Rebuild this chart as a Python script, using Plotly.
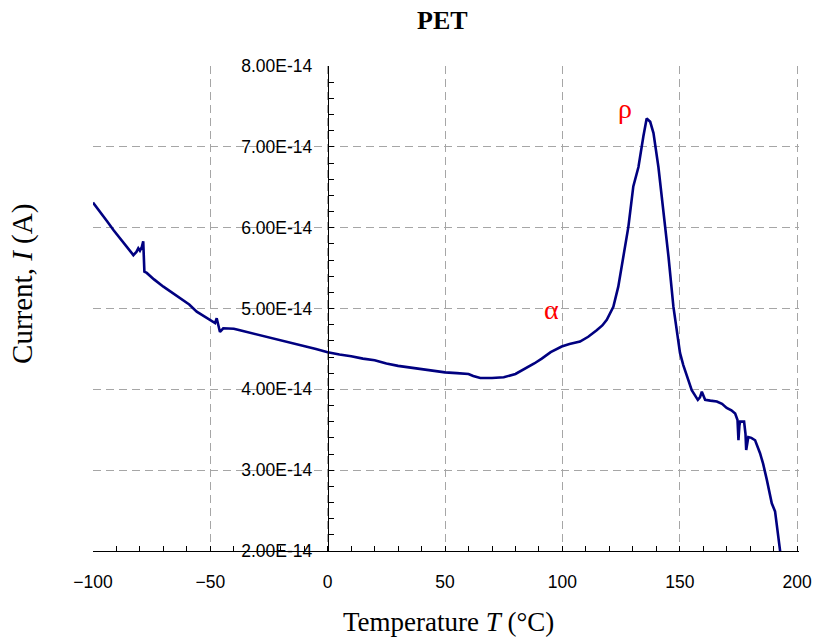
import plotly.graph_objects as go

# Temperature (°C)
temperature = [-100, -97, -94, -91.3, -88, -86, -84.2, -82.8, -81.5, -80.7, -80, -79.2, -78.6, -78.1,
               -77.1, -74, -70, -66, -62.9, -59, -55.8, -52, -48, -47.3, -46.6, -45.9, -44.5,
               -40, -37.4, -33, -28.8, -25, -20, -15, -10, -5, 0, 5, 10, 15, 20, 25, 30, 35, 40,
               45, 50, 55, 60, 62, 65, 70, 75, 80, 85, 88, 91.2, 95, 99.7, 103, 107.5, 111,
               114.6, 117, 118.9, 121.7, 123.8, 126, 128.1, 130.2, 132.4, 134.5, 135.9, 137.4,
               138.8, 140.9, 143.1, 145.2, 147.3, 150.1, 151.5, 153, 155.1, 157.7, 158.6, 159.4,
               160.8, 163, 165.8, 168, 170, 172, 173.6, 174.6, 175, 175.4, 175.7, 177.4, 178,
               178.3, 179.2, 180.5, 182.1, 184.2, 185.5, 187.1, 189.2, 190.6, 191.8, 192.8]

# Current, in units of 1E-14 A
current = [6.31, 6.20, 6.08, 5.97, 5.85, 5.77, 5.70, 5.66, 5.70, 5.745, 5.715, 5.76, 5.83, 5.455,
           5.44, 5.36, 5.27, 5.19, 5.13, 5.05, 4.96, 4.89, 4.82, 4.88, 4.77, 4.71, 4.755,
           4.75, 4.73, 4.70, 4.67, 4.64, 4.61, 4.57, 4.54, 4.50, 4.46, 4.43, 4.41, 4.38, 4.36,
           4.32, 4.29, 4.27, 4.25, 4.23, 4.21, 4.20, 4.19, 4.165, 4.14, 4.14, 4.15, 4.19, 4.27,
           4.32, 4.38, 4.46, 4.53, 4.56, 4.59, 4.65, 4.73, 4.79, 4.86, 5.02, 5.27, 5.64, 6.01,
           6.51, 6.75, 7.13, 7.35, 7.31, 7.17, 6.75, 6.22, 5.64, 5.02, 4.45, 4.30, 4.16, 3.99,
           3.87, 3.90, 3.97, 3.87, 3.86, 3.85, 3.82, 3.77, 3.74, 3.70, 3.62, 3.37, 3.55, 3.60,
           3.60, 3.45, 3.25, 3.41, 3.40, 3.37, 3.21, 3.08, 2.88, 2.59, 2.49, 2.25, 1.99]

y_tick_vals = [2, 3, 4, 5, 6, 7, 8]
y_tick_text = ["2.00E-14", "3.00E-14", "4.00E-14", "5.00E-14", "6.00E-14", "7.00E-14", "8.00E-14"]
x_tick_vals = [-100, -50, 0, 50, 100, 150, 200]

peak_labels = ["α", "ρ"]
peak_T = [95.5, 126.5]
peak_I = [4.985, 7.47]

x_max = 200.8

fig = go.Figure()
fig.add_trace(go.Scatter(x=temperature, y=current, mode="lines",
                         line=dict(color="#000080", width=2.6), showlegend=False))

grid_color = "#a6a6a6"
tick_font = dict(family="Liberation Sans, Arial", size=17.5, color="black")
serif = "Liberation Serif, Times New Roman"

fig.update_layout(
    width=817, height=639,
    margin=dict(l=93, r=18, t=66, b=88, autoexpand=False),
    paper_bgcolor="white", plot_bgcolor="white",
    xaxis=dict(range=[-100, x_max], tickvals=x_tick_vals, ticks="inside", ticklen=5,
               tickcolor="black", showline=True, linecolor="black", linewidth=1,
               showgrid=True, gridcolor=grid_color, griddash="8px,5px", gridwidth=1,
               zeroline=False, tickfont=tick_font, ticklabelstandoff=15, automargin=False,
               minor=dict(dtick=10, ticks="inside", ticklen=5, tickcolor="black", showgrid=False)),
    yaxis=dict(range=[2, 8], tickvals=y_tick_vals, ticktext=y_tick_text, ticks="inside",
               ticklen=5, tickcolor="black", showline=True, linecolor="black", linewidth=1,
               anchor="free", position=100 / (x_max + 100), side="left", automargin=False,
               showgrid=True, gridcolor=grid_color, griddash="8px,5px", gridwidth=1,
               zeroline=False, tickfont=tick_font, ticklabelstandoff=12,
               minor=dict(dtick=0.2, ticks="inside", ticklen=5, tickcolor="black", showgrid=False)),
)

annotations = [
    dict(text="<b>PET</b>", x=0.495, y=1.0928, xref="paper", yref="paper", showarrow=False,
         xanchor="center", yanchor="middle",
         font=dict(family=serif, size=26, color="black")),
    dict(text="Temperature <i>T</i> (°C)", x=0.504, y=-0.1464, xref="paper", yref="paper",
         showarrow=False, xanchor="center", yanchor="middle",
         font=dict(family=serif, size=27, color="black")),
    dict(text="Current, <i>I</i> (A)", x=-0.1, y=0.5515, xref="paper", yref="paper",
         showarrow=False, textangle=-90, xanchor="center", yanchor="middle",
         font=dict(family=serif, size=29, color="black")),
]
for lab, tx, iy in zip(peak_labels, peak_T, peak_I):
    annotations.append(dict(text=lab, x=tx, y=iy, xref="x", yref="y", showarrow=False,
                            xanchor="center", yanchor="middle",
                            font=dict(family=serif, size=28, color="#ff0000")))
fig.update_layout(annotations=annotations)

fig.write_html("out.html", config={"displayModeBar": False},
               post_script="document.body.style.margin='0';document.body.style.overflow='hidden';")
